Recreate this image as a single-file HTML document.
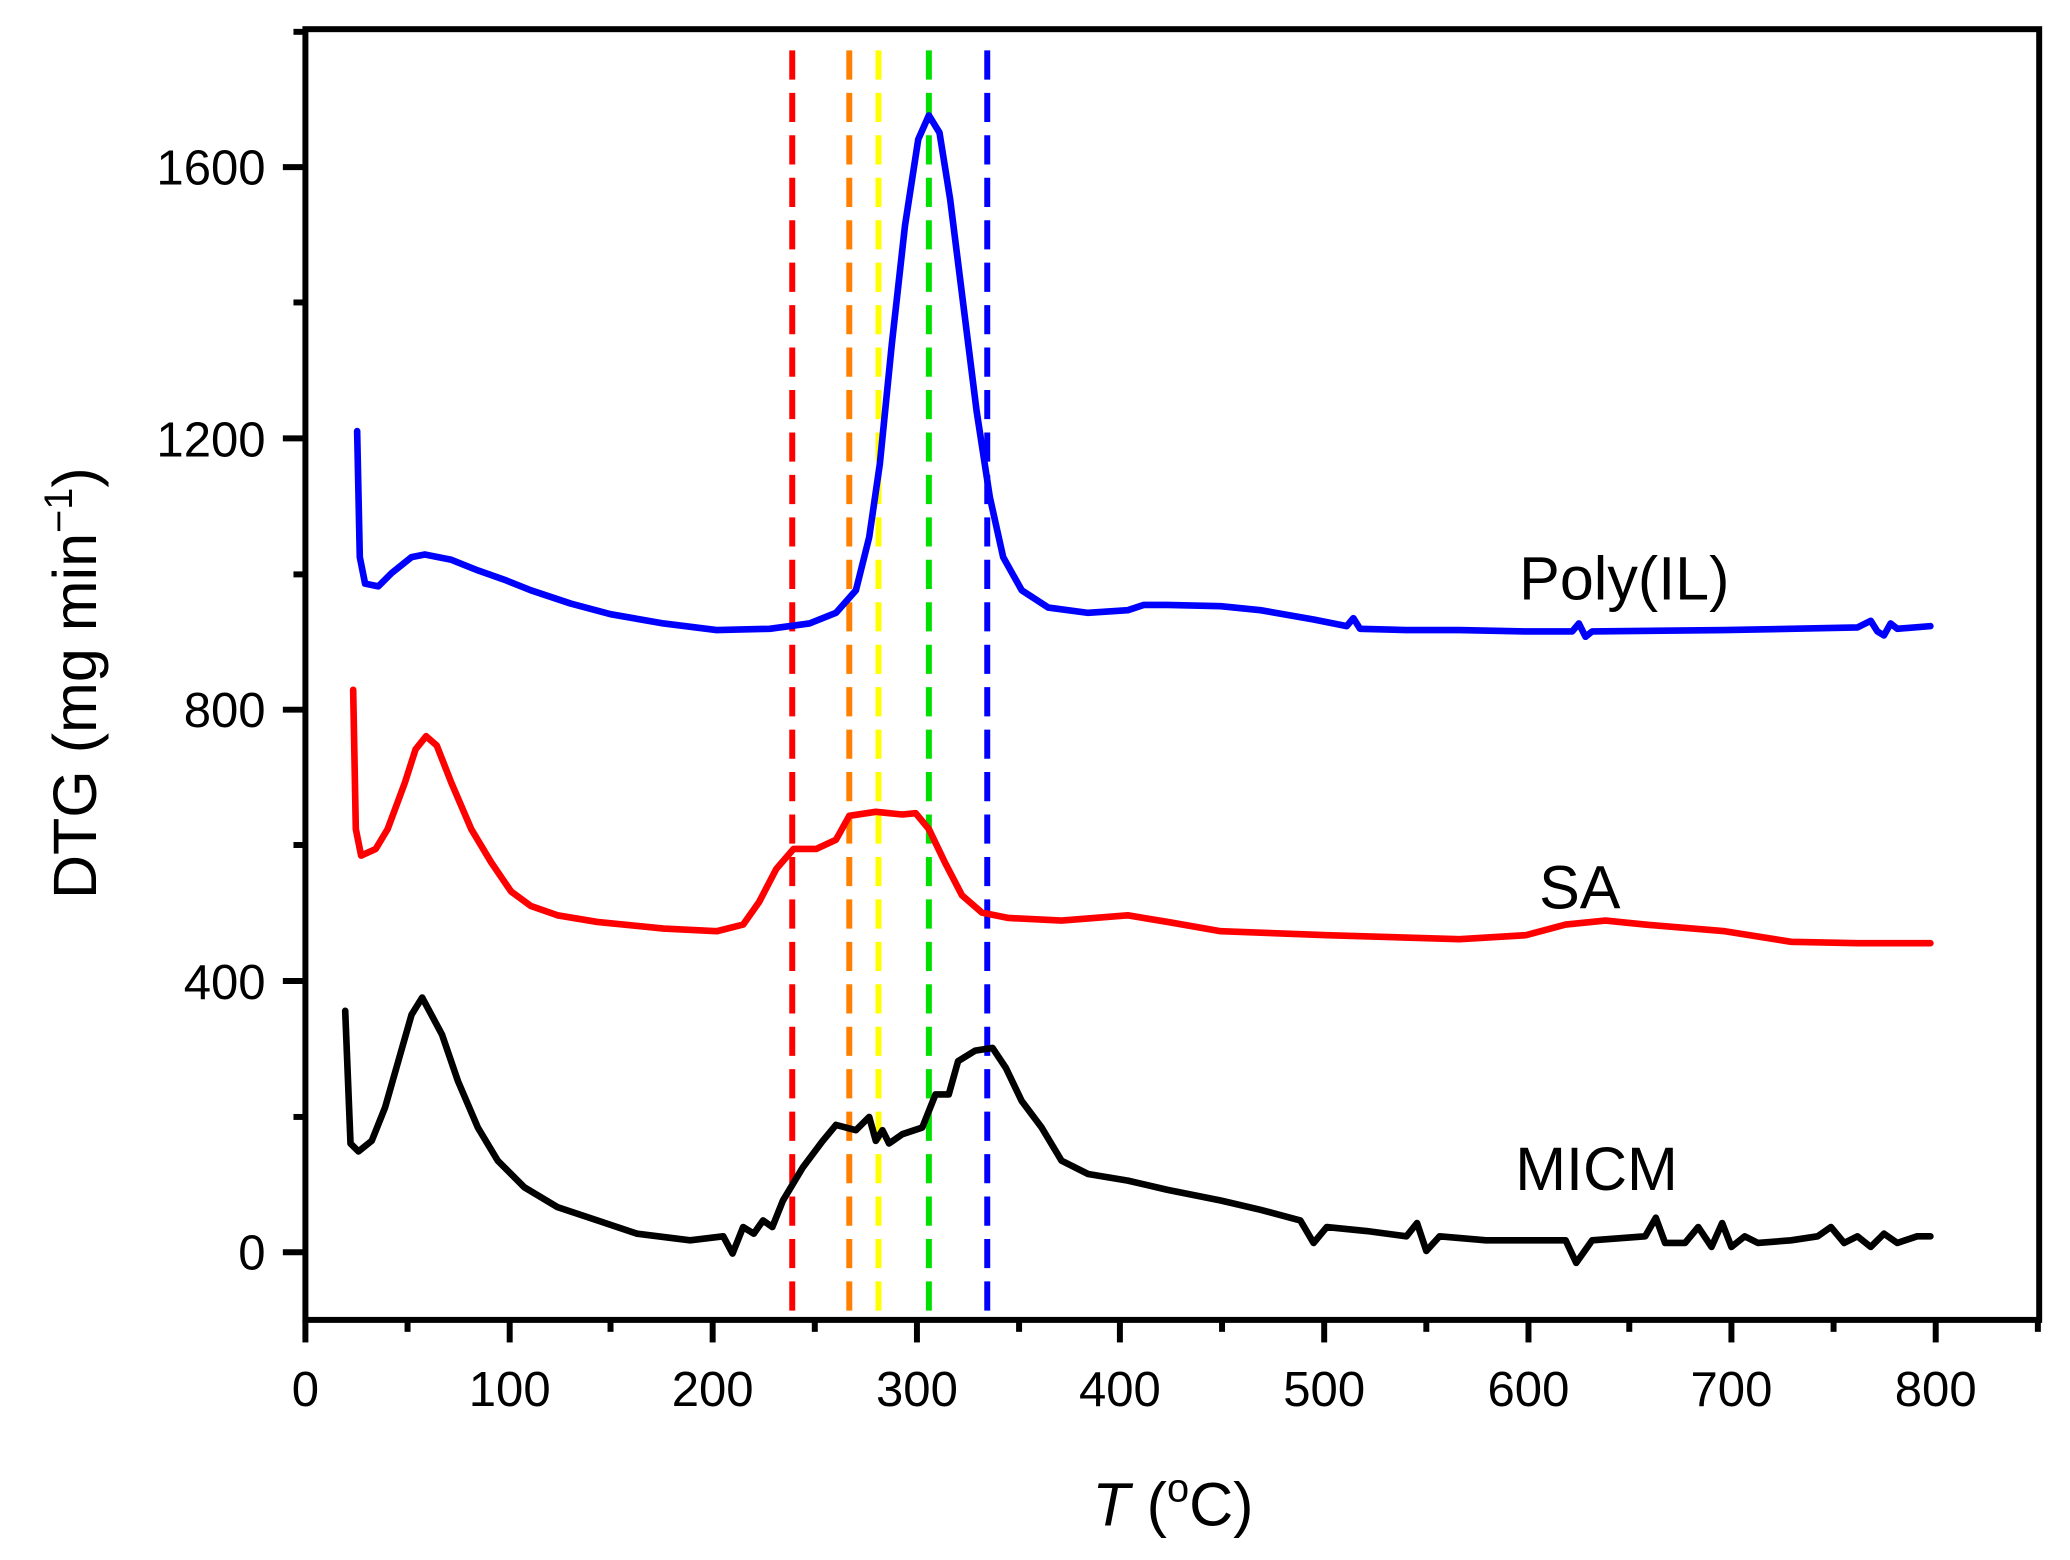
<!DOCTYPE html>
<html><head><style>html,body{margin:0;padding:0;background:#fff}svg{display:block}</style></head>
<body>
<svg width="2070" height="1560" viewBox="0 0 1560 1176" xmlns="http://www.w3.org/2000/svg" font-family="Liberation Sans, Arial, sans-serif">
<rect width="1560" height="1176" fill="#fff"/>
<g stroke-width="4.5" fill="none" stroke-dasharray="22,10">
<line x1="597" y1="38" x2="597" y2="995" stroke="#ff0000"/>
<line x1="640" y1="38" x2="640" y2="995" stroke="#ff8000"/>
<line x1="662" y1="38" x2="662" y2="995" stroke="#ffff00"/>
<line x1="700" y1="38" x2="700" y2="995" stroke="#00e000"/>
<line x1="744" y1="38" x2="744" y2="995" stroke="#0000ff"/>
</g>
<g fill="none" stroke-width="5" stroke-linejoin="round" stroke-linecap="round">
<polyline stroke="#0000ff" points="269,325 271,420 275,440 285,442 295,432 310,420 320,418 340,422 360,430 380,437 400,445 430,455 460,463 500,470 540,475 580,474 610,470 630,462 645,445 655,405 663,350 672,260 682,170 692,105 700,87 708,100 716,150 726,230 736,310 746,375 756,420 770,445 790,458 820,462 850,460 862,456 880,456 920,457 950,460 990,467 1015,472 1020,466 1025,474 1060,475 1100,475 1150,476 1185,476 1190,470 1195,480 1200,476 1300,475 1400,473 1410,468 1415,476 1420,479 1425,470 1430,474 1455,472"/>
<polyline stroke="#ff0000" points="266,520 268,625 272,645 283,640 292,625 305,590 313,565 321,555 329,562 340,590 355,625 370,650 385,672 400,683 420,690 450,695 500,700 540,702 560,697 572,680 585,655 598,640 615,640 630,633 640,615 660,612 680,614 690,613 700,625 712,650 725,675 740,688 760,692 800,694 850,690 880,695 920,702 1000,705 1100,708 1150,705 1180,697 1210,694 1240,697 1300,702 1350,710 1400,711 1455,711"/>
<polyline stroke="#000" points="260,762 264,862 270,868 280,860 290,835 300,800 310,765 318,752 325,765 333,780 345,815 360,850 375,875 395,895 420,910 450,920 480,930 520,935 545,932 552,945 560,925 568,930 575,920 582,925 590,905 605,880 620,860 630,848 645,852 655,842 660,860 665,852 670,862 680,855 695,850 705,825 715,825 722,800 735,792 748,790 758,805 770,830 785,850 800,875 820,885 850,890 880,897 920,905 950,912 980,920 990,937 1000,925 1030,928 1060,932 1068,922 1075,943 1085,932 1120,935 1180,935 1188,952 1200,935 1240,932 1248,918 1255,937 1270,937 1280,925 1290,940 1298,922 1305,940 1315,932 1325,937 1350,935 1370,932 1380,925 1390,937 1400,932 1410,940 1420,930 1430,937 1445,932 1455,932"/>
</g>
<rect x="230" y="22" width="1307" height="973" fill="none" stroke="#000" stroke-width="4.5"/>
<g stroke="#000" stroke-width="4.5">
<line x1="230" y1="995" x2="230" y2="1012"/><line x1="307" y1="995" x2="307" y2="1004"/>
<line x1="384" y1="995" x2="384" y2="1012"/><line x1="460" y1="995" x2="460" y2="1004"/>
<line x1="537" y1="995" x2="537" y2="1012"/><line x1="614" y1="995" x2="614" y2="1004"/>
<line x1="691" y1="995" x2="691" y2="1012"/><line x1="768" y1="995" x2="768" y2="1004"/>
<line x1="844" y1="995" x2="844" y2="1012"/><line x1="921" y1="995" x2="921" y2="1004"/>
<line x1="998" y1="995" x2="998" y2="1012"/><line x1="1075" y1="995" x2="1075" y2="1004"/>
<line x1="1152" y1="995" x2="1152" y2="1012"/><line x1="1228" y1="995" x2="1228" y2="1004"/>
<line x1="1305" y1="995" x2="1305" y2="1012"/><line x1="1382" y1="995" x2="1382" y2="1004"/>
<line x1="1459" y1="995" x2="1459" y2="1012"/><line x1="1536" y1="995" x2="1536" y2="1004"/>
<line x1="213" y1="944" x2="230" y2="944"/><line x1="221" y1="842" x2="230" y2="842"/>
<line x1="213" y1="739.5" x2="230" y2="739.5"/><line x1="221" y1="637" x2="230" y2="637"/>
<line x1="213" y1="535" x2="230" y2="535"/><line x1="221" y1="433" x2="230" y2="433"/>
<line x1="213" y1="330.5" x2="230" y2="330.5"/><line x1="221" y1="228" x2="230" y2="228"/>
<line x1="213" y1="126" x2="230" y2="126"/><line x1="221" y1="24" x2="230" y2="24"/>
</g>
<g font-size="37" text-anchor="middle" fill="#000">
<text x="230" y="1060">0</text><text x="384" y="1060">100</text><text x="537" y="1060">200</text>
<text x="691" y="1060">300</text><text x="844" y="1060">400</text><text x="998" y="1060">500</text>
<text x="1152" y="1060">600</text><text x="1305" y="1060">700</text><text x="1459" y="1060">800</text>
</g>
<g font-size="37" text-anchor="end" fill="#000">
<text x="200" y="957">0</text><text x="200" y="753">400</text><text x="200" y="548">800</text>
<text x="200" y="344">1200</text><text x="200" y="139">1600</text>
</g>
<text x="884" y="1150" font-size="46" text-anchor="middle"><tspan font-style="italic">T</tspan> (<tspan font-size="30" dy="-18">o</tspan><tspan dy="18">C)</tspan></text>
<text transform="translate(72,515) rotate(-90)" font-size="46" text-anchor="middle">DTG (mg min<tspan font-size="30" dy="-18">−1</tspan><tspan dy="18">)</tspan></text>
<g font-size="46" fill="#000">
<text x="1145" y="452">Poly(IL)</text>
<text x="1160" y="685">SA</text>
<text x="1142" y="897">MICM</text>
</g>
</svg>
</body></html>
